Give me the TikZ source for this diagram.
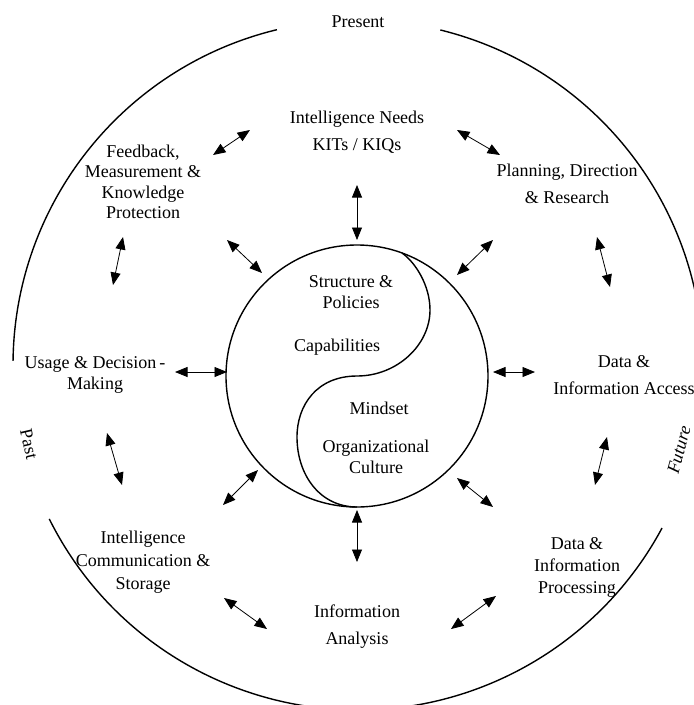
\documentclass[tikz,border=0pt]{standalone}
\usepackage{fontspec}
\setmainfont{Liberation Serif}
\usetikzlibrary{arrows.meta}
\begin{document}
\begin{tikzpicture}[x=1pt,y=-1pt,
  ring/.style={line width=1.4pt},
  link/.style={{Triangle[length=12.5pt,width=10pt]}-{Triangle[length=12.5pt,width=10pt]}, line width=0.8pt},
  lbl/.style={align=center, inner sep=0pt, font=\fontsize{18}{20.5}\selectfont},
  wide/.style={font=\fontsize{18}{27}\selectfont},
  mid/.style={font=\fontsize{18}{23}\selectfont},
]
\useasboundingbox (0,0) rectangle (694,705);
\clip (0,0) rectangle (694,705);

% outer time ring, broken at Present, Past and Future
\coordinate (oc) at (358,365);
\draw[ring] (oc) ++(-103.6:345) arc[start angle=-103.6, end angle=-179.3, radius=345];
\draw[ring] (oc) ++(-76.2:345) arc[start angle=-76.2, end angle=2, radius=345];
\draw[ring] (oc) ++(153.5:345) arc[start angle=153.5, end angle=28.2, radius=345];

\node[lbl] (present) at (358,22) {Present};
\node[lbl, rotate=-77] (past) at (29,444) {Past};
\node[lbl, rotate=75] (future) at (679,450) {\itshape Future};

% core with its S-shaped divide
\node[draw, circle, minimum size=262pt, inner sep=0pt, ring] (core) at (357,376) {};
\draw[ring] (402,253) .. controls (415,262) and (430,285) .. (430,310)
  .. controls (430,345) and (397,376) .. (357,376)
  .. controls (317,376) and (297,405) .. (297,437)
  .. controls (297,475) and (320,507) .. (357,507);

\node[lbl] (struct) at (351,292) {Structure \&\\Policies};
\node[lbl] (capab) at (337,347) {Capabilities};
\node[lbl] (mind) at (379,408) {Mindset};
\node[lbl] (culture) at (376,457) {Organizational\\Culture};

% cycle stages
\node[lbl, wide] (needs) at (357,132) {Intelligence Needs\\KITs / KIQs};
\node[lbl, wide] (plan) at (567,184) {Planning, Direction\\\& Research};
\node[lbl, wide] (access) at (624,375) {Data \&\\Information Access};
\node[lbl, font=\fontsize{18}{22}\selectfont] (proc) at (577,567) {Data \&\\Information\\Processing};
\node[lbl, wide] (analysis) at (357,627) {Information\\Analysis};
\node[lbl, mid] (comm) at (143,562) {Intelligence\\Communication \&\\Storage};
\node[lbl] (usage) at (95,375) {Usage \& Decision\,-\\Making};
\node[lbl] (feedback) at (143,182) {Feedback,\\Measurement \&\\Knowledge\\Protection};

% arrow end points
\coordinate (a1) at (457,130);  \coordinate (b1) at (500,155);
\coordinate (a2) at (597,237);  \coordinate (b2) at (610,287);
\coordinate (a3) at (457,275);  \coordinate (b3) at (493,240);
\coordinate (a4) at (357,240);  \coordinate (b4) at (357,185);
\coordinate (a5) at (262,273);  \coordinate (b5) at (227,240);
\coordinate (a6) at (213,155);  \coordinate (b6) at (250,130);
\coordinate (a7) at (123,237);  \coordinate (b7) at (113,285);
\coordinate (a8) at (175,372);  \coordinate (b8) at (227,372);
\coordinate (a9) at (107,433);  \coordinate (b9) at (122,485);
\coordinate (a10) at (258,470); \coordinate (b10) at (223,505);
\coordinate (a11) at (224,598); \coordinate (b11) at (267,629);
\coordinate (a12) at (451,629); \coordinate (b12) at (496,596);
\coordinate (a13) at (357,510); \coordinate (b13) at (357,562);
\coordinate (a14) at (457,478); \coordinate (b14) at (493,507);
\coordinate (a15) at (493,372); \coordinate (b15) at (535,372);
\coordinate (a16) at (607,437); \coordinate (b16) at (595,485);

\foreach \i in {1,...,16} \draw[link] (a\i) -- (b\i);
\end{tikzpicture}
\end{document}
